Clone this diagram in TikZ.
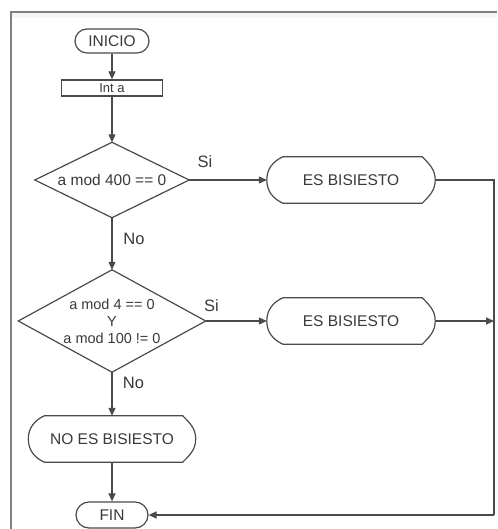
\documentclass[tikz,border=0pt]{standalone}
\usepackage{fontspec}
\setmainfont{Liberation Sans}
\usetikzlibrary{arrows.meta,calc}
\definecolor{ink}{HTML}{4A4A4A}
\definecolor{txt}{HTML}{3A3A3A}
\definecolor{framegray}{HTML}{808080}
\begin{document}
\begin{tikzpicture}[x=1pt,y=1pt,
  every node/.style={text=txt, font=\fontsize{15.5}{17}\selectfont},
  line/.style={draw=ink, line width=1.2pt},
  flow/.style={line, -{Triangle[length=8pt,width=7pt]}},
  terminal/.style={draw=ink, line width=1.2pt, rounded corners=12pt,
    minimum width=74pt, minimum height=24pt, inner sep=0pt},
  procbox/.style={draw=ink, line width=1.2pt, minimum width=101pt,
    minimum height=16pt, inner sep=0pt, font=\fontsize{13}{14}\selectfont},
  decision/.style={inner sep=0pt, align=center},
  dispbox/.style={inner sep=0pt, minimum width=168pt, minimum height=46pt},
  branch/.style={font=\fontsize{16.5}{18}\selectfont}
]
\useasboundingbox (0,0) rectangle (497,529);
\fill[white] (0,0) rectangle (497,529);

% outer frame (top and left edges)
\draw[framegray, line width=2pt] (497,517) -- (11,517) -- (11,0);
\fill[black!4] (12,516) rectangle (497,511);

% nodes
\node[terminal] (inicio) at (112,488) {INICIO};
\node[procbox] (inta) at (112,441) {Int a};
\node[decision, minimum width=154pt, minimum height=75pt] (d1) at (112,349) {a mod 400 == 0};
\node[decision, minimum width=187pt, minimum height=102pt,
      font=\fontsize{14.5}{17}\selectfont] (d2) at (112,208)
      {a mod 4 == 0\\Y\\a mod 100 != 0};
\node[dispbox] (es1) at (351,349) {ES BISIESTO};
\node[dispbox] (es2) at (351,208) {ES BISIESTO};
\node[dispbox, minimum width=167pt] (noes) at (112,90) {NO ES BISIESTO};
\node[terminal, minimum width=72pt, minimum height=26pt, rounded corners=13pt] (fin) at (112,14) {FIN};

% decision outlines
\foreach \n in {d1,d2}
  \draw[line] (\n.north) -- (\n.east) -- (\n.south) -- (\n.west) -- cycle;

% display-shape outlines
\foreach \n in {es1,es2,noes}
  \draw[line]
    ($(\n.north west)+(16,0)$) -- ($(\n.north east)+(-13,0)$)
    to[out=-45,in=90] (\n.east) to[out=-90,in=45] ($(\n.south east)+(-13,0)$)
    -- ($(\n.south west)+(16,0)$)
    to[out=155,in=-90] (\n.west) to[out=90,in=205] cycle;

% return line on the right
\coordinate (r1) at (494,349);
\coordinate (r2) at (494,208);
\coordinate (r3) at (494,14);

% connectors
\draw[flow] (inicio) -- (inta);
\draw[flow] (inta) -- (d1.north);
\draw[flow] (d1.east) -- (es1.west);
\draw[flow] (d1.south) -- (d2.north);
\draw[flow] (d2.east) -- (es2.west);
\draw[flow] (d2.south) -- (noes.north);
\draw[flow] (noes.south) -- (fin.north);
\draw[line] (es1.east) -- (r1) -- (r3);
\draw[flow] (es2.east) -- (r2);
\draw[flow] (r3) -- (fin.east);

% branch labels
\node[branch] (si1) at (205,367.5) {Si};
\node[branch] (no1) at (134,290.5) {No};
\node[branch] (si2) at (211.5,223) {Si};
\node[branch] (no2) at (133.5,146.5) {No};
\end{tikzpicture}
\end{document}
